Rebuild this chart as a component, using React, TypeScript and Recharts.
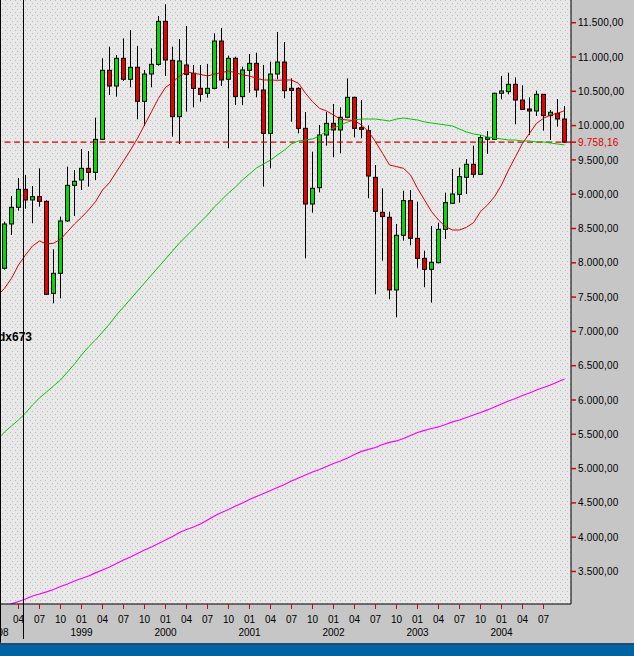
import {
  ComposedChart,
  Bar,
  Line,
  XAxis,
  YAxis,
  CartesianGrid,
  ReferenceLine
} from 'recharts'

// Monthly candles, Jan 1998 (index -1, averages only) .. Oct 2004 (index 80)
const firstYear = 1998

const opens = [null,
  7920, 8566, 8809, 9071, 8916, 8964, 8896, 7555, 7847, 8610, 9129,
  9207, 9377, 9319, 9800, 10806, 10577, 10981, 10675, 10850, 10354, 10752,
  10893, 11520, 10952, 10130, 10884, 10762, 10543, 10471, 10543, 11233, 10675,
  10981, 10422, 10806, 10908, 10519, 9887, 10752, 10927, 10543, 10543, 9960,
  8857, 9095, 9863, 10033, 9936, 10121, 10412, 9970, 9926, 9246, 8736,
  8663, 7604, 8401, 8906, 8357, 8065, 7905, 8002, 8488, 8867, 8998,
  9246, 9436, 9290, 9800, 9800, 10471, 10495, 10602, 10373, 10242, 10213,
  10456, 10145, 10179, 10096]

const highs = [null,
  8600, 8974, 9236, 9280, 9120, 9377, 8910, 8196, 8673, 9402, 9353,
  9659, 9630, 10116, 10981, 11151, 11029, 11272, 11394, 11160, 10811, 11126,
  11598, 11768, 11151, 11262, 11452, 10884, 10884, 10898, 11345, 11423, 11020,
  11005, 10859, 11044, 11063, 10884, 10932, 11365, 11219, 10689, 10558, 10198,
  9620, 10009, 10198, 10315, 10266, 10689, 10422, 10373, 10004, 9426, 9086,
  8746, 8566, 9052, 9061, 8891, 8177, 8537, 8585, 9023, 9367, 9387,
  9513, 9708, 9863, 9921, 10480, 10723, 10772, 10704, 10587, 10412, 10509,
  10460, 10228, 10388, 10286]

const lows = [null,
  7900, 8405, 8760, 8789, 8576, 8818, 7530, 7409, 7482, 8595, 8682,
  9061, 9110, 9207, 9790, 10446, 10422, 10650, 10558, 10092, 9994, 10558,
  10874, 10723, 9839, 9732, 10203, 10266, 10349, 10407, 10529, 10577, 9669,
  10300, 10300, 10480, 10412, 9110, 9377, 10675, 10398, 10057, 9887, 8065,
  8731, 9027, 9708, 9538, 9596, 10106, 9829, 9815, 8940, 7541, 8031,
  7468, 7205, 8323, 8255, 7920, 7643, 7419, 7992, 8347, 8860, 8877,
  9003, 9241, 9280, 9586, 9790, 10383, 10456, 10019, 10228, 9863, 10140,
  9926, 9790, 9985, 9750]

const closes = [null,
  8566, 8809, 9071, 8916, 8964, 8896, 7541, 7847, 8610, 9129, 9188,
  9377, 9319, 9800, 10806, 10577, 10981, 10675, 10850, 10354, 10752, 10893,
  11520, 10956, 10130, 10942, 10747, 10543, 10456, 10543, 11233, 10665, 10981,
  10422, 10811, 10908, 10519, 9887, 10752, 10927, 10509, 10514, 9960, 8857,
  9086, 9863, 10033, 9936, 10121, 10412, 9960, 9946, 9265, 8750, 8673,
  7604, 8401, 8906, 8357, 8065, 7905, 8007, 8488, 8877, 9003, 9256,
  9436, 9290, 9824, 9824, 10471, 10505, 10602, 10373, 10237, 10213, 10456,
  10145, 10194, 10096, 9758.16]

const shortAvg = [
  7520, 7628, 7774, 7968, 8114, 8245, 8318, 8274, 8284, 8342, 8454, 8566,
  8663, 8770, 8891, 9061, 9168, 9329, 9484, 9644, 9815, 10009, 10203, 10398,
  10558, 10626, 10723, 10786, 10762, 10747, 10723, 10752, 10772, 10796, 10772, 10738,
  10723, 10689, 10665, 10665, 10660, 10665, 10665, 10616, 10471, 10349, 10252, 10213,
  10155, 10091, 10082, 10072, 10009, 9912, 9766, 9596, 9426, 9402, 9377, 9280,
  9086, 8916, 8746, 8624, 8527, 8478, 8478, 8517, 8585, 8746, 8843, 8964,
  9134, 9353, 9547, 9742, 9887, 10033, 10106, 10155, 10179, 10218]

const midAvg = [
  5425, 5534, 5621, 5709, 5811, 5927, 6029, 6117, 6204, 6292, 6408, 6525,
  6656, 6773, 6875, 6991, 7108, 7239, 7356, 7472, 7589, 7706, 7822, 7939,
  8055, 8172, 8289, 8391, 8493, 8595, 8697, 8814, 8916, 9018, 9105, 9207,
  9295, 9382, 9440, 9499, 9572, 9644, 9732, 9776, 9790, 9805, 9849, 9921,
  9965, 10009, 10053, 10082, 10096, 10096, 10096, 10082, 10067, 10096, 10111, 10096,
  10082, 10053, 10038, 10024, 10009, 9994, 9950, 9907, 9878, 9863, 9834, 9820,
  9805, 9790, 9790, 9776, 9776, 9761, 9761, 9747, 9732, 9718]

const longAvg = [
  2950, 2997, 3027, 3063, 3099, 3143, 3172, 3202, 3238, 3282, 3318, 3362,
  3398, 3435, 3479, 3522, 3566, 3617, 3668, 3712, 3763, 3814, 3858, 3909,
  3960, 4010, 4069, 4113, 4149, 4193, 4251, 4310, 4360, 4404, 4455, 4499,
  4550, 4594, 4637, 4681, 4725, 4768, 4819, 4863, 4907, 4951, 4987, 5031,
  5075, 5111, 5155, 5206, 5250, 5279, 5308, 5352, 5381, 5403, 5439, 5483,
  5526, 5556, 5585, 5607, 5643, 5680, 5709, 5745, 5782, 5818, 5855, 5898,
  5942, 5986, 6022, 6066, 6102, 6146, 6182, 6219, 6263, 6306]

const lastClose = 9758.16

// axis ticks
const quarterTicks = [-1, 2, 5, 8, 11, 14, 17, 20, 23, 26, 29, 32, 35, 38, 41, 44, 47, 50, 53, 56, 59, 62, 65, 68, 71, 74, 77]
const monthLabels = ['01', '04', '07', '10']
const priceTicks = [3500, 4000, 4500, 5000, 5500, 6000, 6500, 7000, 7500, 8000, 8500, 9000, 9500, lastClose, 10000, 10500, 11000, 11500]

const rows = shortAvg.map((_, i) => ({
  t: i - 1,
  open: opens[i],
  high: highs[i],
  low: lows[i],
  close: closes[i],
  short: shortAvg[i],
  mid: midAvg[i],
  long: longAvg[i]
}))

const FONT = '"Liberation Sans", Arial, sans-serif'
const RED = '#e00000'

// 9758.16 -> 9.758,16
function formatPrice(v: number) {
  const [int, dec] = v.toFixed(2).split('.')
  return int.replace(/\B(?=(\d{3})+(?!\d))/g, '.') + ',' + dec
}

function Candle(props: any) {
  const { x, y, width, height, payload } = props
  if (payload == null || payload.open == null || height == null) return null
  const cx = x + width / 2
  const span = payload.high - payload.low || 1
  const toY = (v: number) => y + ((payload.high - v) / span) * height
  const yo = toY(payload.open)
  const yc = toY(payload.close)
  const up = payload.close >= payload.open
  return (
    <g>
      <line x1={cx} x2={cx} y1={y} y2={y + height} stroke="#000" strokeWidth={1} />
      <rect
        x={cx - 2}
        y={Math.min(yo, yc)}
        width={4}
        height={Math.max(Math.abs(yc - yo), 1)}
        fill={up ? '#00dc00' : '#e60000'}
        stroke="#000"
        strokeWidth={1}
      />
    </g>
  )
}

function MonthTick({ x, y, payload }: any) {
  const t = payload.value
  const m = (((t + 1) % 12) + 12) % 12
  const year = firstYear + Math.floor((t + 1) / 12)
  return (
    <g>
      {t >= 0 && <line x1={x} x2={x} y1={y} y2={y + 5} stroke={RED} strokeWidth={1} />}
      {t >= 0 && (
        <text x={x} y={y + 18.5} textAnchor="middle" fontSize={10} fontFamily={FONT} fill="#000">
          {monthLabels[m / 3]}
        </text>
      )}
      {m === 0 && (
        <text x={x} y={y + 32} textAnchor="middle" fontSize={10} fontFamily={FONT} fill="#000">
          {year}
        </text>
      )}
    </g>
  )
}

function PriceTick({ x, y, payload }: any) {
  const v = payload.value
  const isLast = v === lastClose
  return (
    <g>
      <line x1={x} x2={x + 5} y1={y} y2={y} stroke={RED} strokeWidth={1.5} />
      <text x={x + 7} y={y + 3.6} fontSize={10} fontFamily={FONT} letterSpacing={0.2} fill={isLast ? RED : '#000'}>
        {formatPrice(v)}
      </text>
    </g>
  )
}

export default function App() {
  return (
    <div
      style={{
        position: 'absolute',
        left: 0,
        top: 0,
        width: 634,
        height: 656,
        background: '#c6c6c6',
        overflow: 'hidden',
        fontFamily: FONT
      }}
    >
      <ComposedChart width={634} height={643} data={rows} margin={{ top: 0, right: 0, bottom: 0, left: 0 }}>
        <defs>
          <pattern id="dots" width="5" height="6" patternUnits="userSpaceOnUse">
            <rect width="5" height="6" fill="#e8e8e8" />
            <rect x="0" y="0" width="1" height="1" fill="#bcbcbc" />
            <rect x="2" y="3" width="1" height="1" fill="#bcbcbc" />
          </pattern>
        </defs>
        <CartesianGrid horizontal={false} vertical={false} fill="url(#dots)" fillOpacity={1} />
        <XAxis
          dataKey="t"
          type="number"
          domain={[-0.642857, 80.928571]}
          allowDataOverflow
          ticks={quarterTicks}
          interval={0}
          height={39}
          tick={<MonthTick />}
          tickLine={false}
          tickSize={0}
          tickMargin={0}
          axisLine={{ stroke: '#000' }}
        />
        <YAxis
          orientation="right"
          type="number"
          width={63}
          domain={[3026, 11831]}
          allowDataOverflow
          ticks={priceTicks}
          interval={0}
          tick={<PriceTick />}
          tickLine={false}
          tickSize={0}
          tickMargin={0}
          axisLine={{ stroke: '#000' }}
        />

        <ReferenceLine y={lastClose} stroke={RED} strokeDasharray="6 3.5" strokeWidth={1.2} />

        <Bar
          dataKey={(d: any) => (d.open == null ? null : [d.low, d.high])}
          barSize={5}
          shape={<Candle />}
          isAnimationActive={false}
        />

        <Line type="linear" dataKey="long" stroke="#ff00ff" strokeWidth={1.2} dot={false} activeDot={false} isAnimationActive={false} />
        <Line type="linear" dataKey="mid" stroke="#00c800" strokeWidth={1} dot={false} activeDot={false} isAnimationActive={false} />
        <Line type="linear" dataKey="short" stroke={RED} strokeWidth={1} dot={false} activeDot={false} isAnimationActive={false} />

        {/* plot left border and the cursor line, both running into the axis strip */}
        <ReferenceLine
          segment={[{ x: -0.571, y: 11831 }, { x: -0.571, y: 2460 }]}
          stroke="#000"
          ifOverflow="visible"
        />
        <ReferenceLine
          segment={[{ x: 2.714, y: 11831 }, { x: 2.714, y: 2516 }]}
          stroke="#000"
          ifOverflow="visible"
        />
      </ComposedChart>

      <div
        style={{
          position: 'absolute',
          left: -2,
          top: 331,
          fontSize: 12,
          lineHeight: '12px',
          fontWeight: 'bold',
          color: '#000'
        }}
      >
        dx673
      </div>

      <div
        style={{
          position: 'absolute',
          left: 0,
          top: 643,
          width: 634,
          height: 13,
          boxSizing: 'border-box',
          borderTop: '2px solid #234a73',
          background: '#0063a4'
        }}
      />
    </div>
  )
}
